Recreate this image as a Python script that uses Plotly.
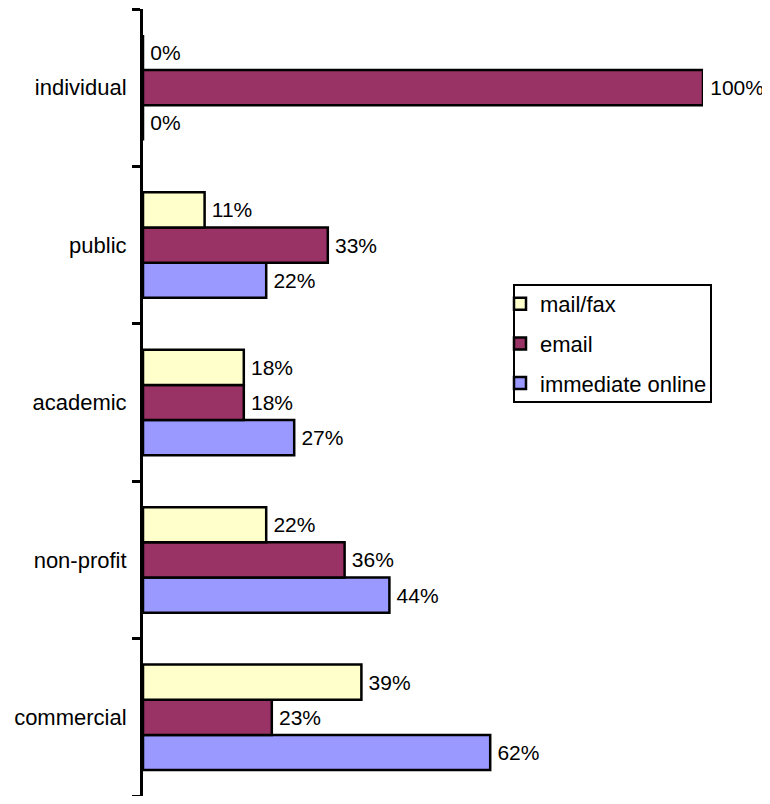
import plotly.graph_objects as go

categories = ["commercial", "non-profit", "academic", "public", "individual"]
mail_fax = [39, 22, 18, 11, 0]
email = [23, 36, 18, 33, 100]
immediate_online = [62, 44, 27, 22, 0]

series = [
    ("immediate online", immediate_online, "#9999FF", 3),
    ("email", email, "#993366", 2),
    ("mail/fax", mail_fax, "#FFFFCC", 1),
]

FONT = "Liberation Sans, Arial"

fig = go.Figure()
for name, vals, color, rank in series:
    fig.add_trace(go.Bar(
        y=categories, x=vals, name=name, orientation="h",
        marker=dict(color=color, line=dict(color="black", width=2.5)),
        text=[f"\u2009{v}%" for v in vals], textposition="outside",
        textfont=dict(family=FONT, size=21, color="black"),
        cliponaxis=False, legendrank=rank, legendgroup=name,
    ))

W, H = 762, 788
L, T = 135, 1
PW, PH = 560, 787
OFF = 8  # page body offset


def px(vx):
    return (vx - OFF - L) / PW


def py(vy):
    return 1 - (vy - OFF - T) / PH


fig.add_shape(type="rect", xref="paper", yref="paper",
              x0=px(514), x1=px(711), y0=py(285), y1=py(402),
              line=dict(color="black", width=2), fillcolor="white", layer="below")

fig.update_layout(
    width=W, height=H,
    margin=dict(l=L, r=W - L - PW, t=T, b=H - T - PH),
    paper_bgcolor="white", plot_bgcolor="white",
    barmode="group", bargap=0.33, bargroupgap=0,
    font=dict(family=FONT, size=22, color="black"),
    showlegend=True,
    legend=dict(
        x=px(500), y=py(283),
        xanchor="left", yanchor="top",
        borderwidth=0, bgcolor="rgba(0,0,0,0)",
        font=dict(size=22), tracegroupgap=8,
    ),
    xaxis=dict(range=[0, 100], showgrid=False, zeroline=False,
               showline=False, showticklabels=False, ticks=""),
    yaxis=dict(showgrid=False, showline=True, linecolor="black", linewidth=3,
               ticks="outside", ticklen=8, tickwidth=3, tickcolor="black",
               tickson="boundaries", range=[-0.5, 4.5],
               ticklabelstandoff=9),
)

fig.write_html("out.html")
